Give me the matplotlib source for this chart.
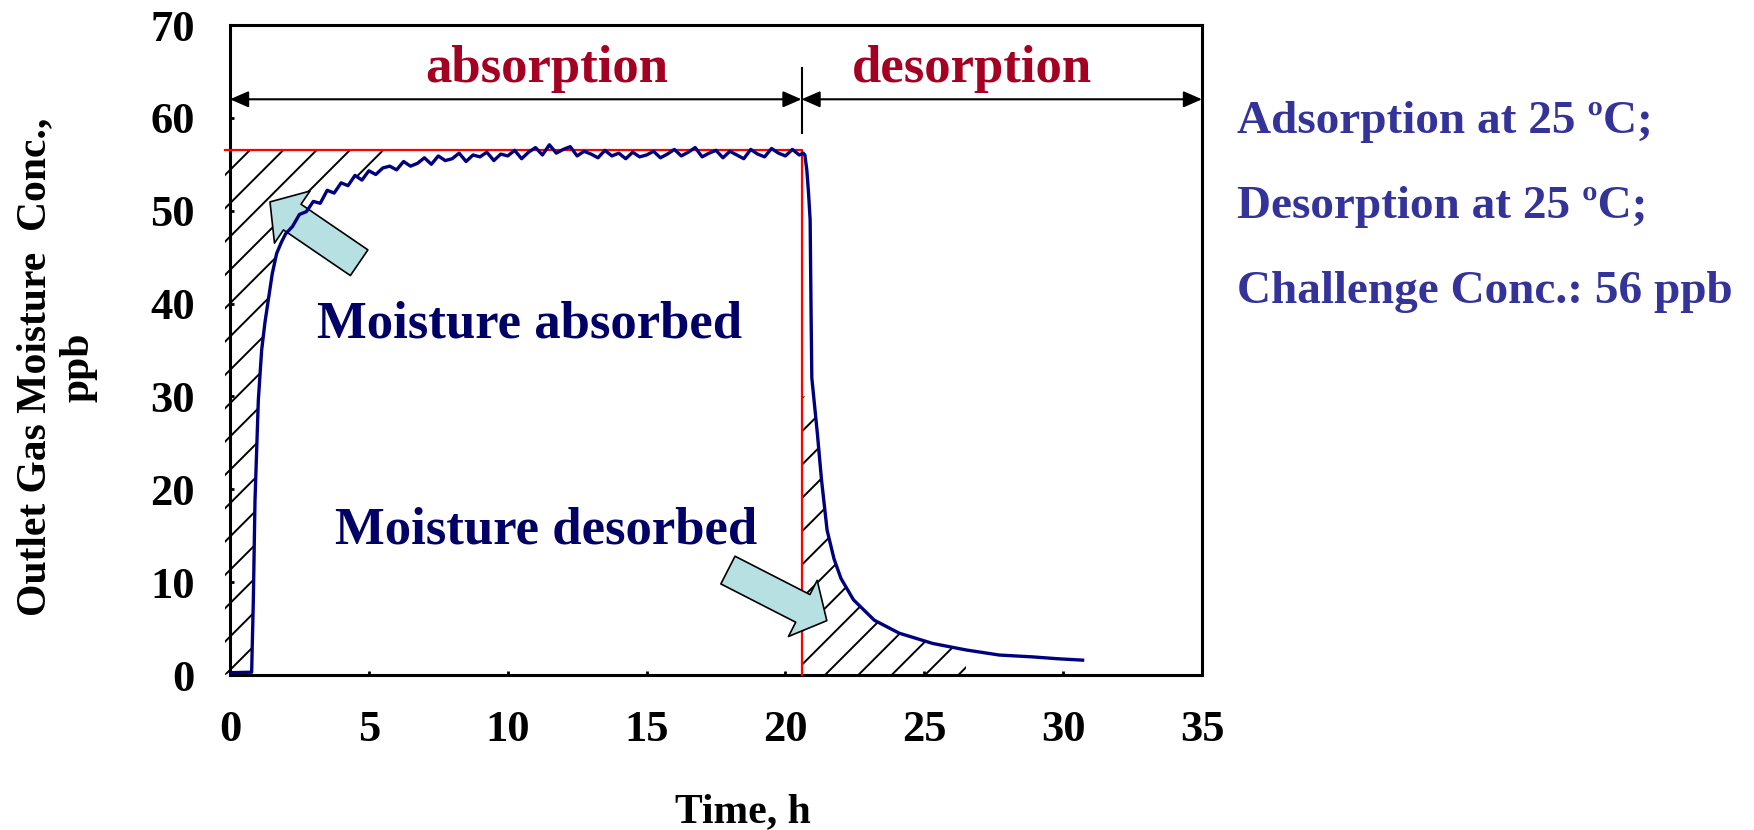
import numpy as np
import matplotlib
matplotlib.use('Agg')
import matplotlib.pyplot as plt

plt.rcParams['font.family'] = ['Liberation Serif', 'DejaVu Serif']
plt.rcParams['font.weight'] = 'bold'
plt.rcParams['hatch.linewidth'] = 0.7
plt.rcParams['hatch.color'] = 'k'

# ---- data (time in h, outlet moisture in ppb) ----
rise_t = [0.0, 0.78, 0.80, 0.84, 0.90, 0.96, 1.02, 1.14, 1.26, 1.38, 1.52, 1.68, 1.85, 2.0]
rise_v = [0.25, 0.3, 3.0, 8.0, 18.8, 24.2, 29.6, 35.0, 38.0, 40.4, 43.2, 45.4, 46.6, 47.5]

plat_t = [2.25, 2.5, 2.75, 3.0, 3.25, 3.5, 3.75, 4.0, 4.25, 4.5, 4.75,
          5.0, 5.25, 5.5, 5.75, 6.0, 6.25, 6.5, 6.75, 7.0, 7.25, 7.5, 7.75,
          8.0, 8.25, 8.5, 8.75, 9.0, 9.25, 9.5, 9.75,
          10.0, 10.25, 10.5, 10.75, 11.0, 11.25, 11.5, 11.75, 12.0, 12.25, 12.5, 12.75,
          13.0, 13.25, 13.5, 13.75, 14.0, 14.25, 14.5, 14.75,
          15.0, 15.25, 15.5, 15.75, 16.0, 16.25, 16.5, 16.75, 17.0, 17.25, 17.5, 17.75,
          18.0, 18.25, 18.5, 18.75, 19.0, 19.25, 19.5, 19.75,
          20.0, 20.25, 20.5]
plat_v = [48.3, 49.6, 49.9, 51.0, 50.8, 52.2, 51.9, 53.0, 52.7, 53.8, 53.3,
          54.3, 53.9, 54.6, 54.8, 54.4, 55.3, 54.8, 55.1, 55.7, 55.0, 55.9, 55.4,
          55.6, 56.2, 55.3, 56.0, 55.8, 56.3, 55.4, 56.1,
          55.9, 56.5, 55.6, 56.3, 56.8, 56.0, 57.1, 56.2, 56.6, 56.9, 55.9, 56.4,
          56.1, 55.7, 56.5, 55.9, 56.2, 55.6, 56.3, 55.8,
          56.0, 56.4, 55.7, 56.1, 56.6, 55.9, 56.3, 56.8, 55.8, 56.2, 56.5, 55.7,
          56.4, 56.0, 55.6, 56.6, 56.1, 55.8, 56.7, 56.2,
          55.9, 56.6, 56.0]

drop_t = [20.64, 20.70, 20.77, 20.83, 20.89, 20.92, 20.95, 21.05, 21.15, 21.3, 21.5,
          21.75, 22.0, 22.45, 23.2, 24.1, 25.3, 26.5, 27.7, 28.9, 29.8, 30.7]
drop_v = [56.2, 56.0, 54.4, 52.0, 49.0, 40.0, 32.0, 29.0, 26.0, 21.0, 15.6,
          12.5, 10.4, 8.1, 5.9, 4.5, 3.4, 2.7, 2.15, 1.95, 1.75, 1.6]

challenge = 56.5      # ppb, red reference level
switch_t = 20.58      # h, switch from absorption to desorption

t = np.array(rise_t + plat_t + drop_t)
v = np.array(rise_v + plat_v + drop_v)

fig = plt.figure(figsize=(8.77, 4.15), dpi=200)
ax = fig.add_axes([230 / 1754, 155 / 830, 972 / 1754, 650 / 830])

# hatched areas
m1 = t <= 5.6
ax.fill_between(np.concatenate([[-0.18], t[m1]]), np.concatenate([[0.0], v[m1]]),
                challenge, facecolor='none', edgecolor='k', linewidth=0,
                hatch='//', clip_on=False)
m2 = (t >= switch_t) & (t <= 27.5)
ax.fill_between(np.concatenate([[switch_t], t[m2]]),
                0, np.minimum(np.concatenate([[v[m2][0]], v[m2]]), 30),
                facecolor='none', edgecolor='k', linewidth=0, hatch='//')

# red challenge profile
ax.plot([-0.18, switch_t, switch_t], [challenge, challenge, 0], color='#ff0000',
        lw=0.8, clip_on=False, zorder=3)

# measured curve
ax.plot(t, v, color='#00007f', lw=1.2, zorder=4)

# phase arrows
ap = dict(arrowstyle='<|-|>,head_length=0.8,head_width=0.35', color='k',
          lw=0.75, mutation_scale=7, shrinkA=0, shrinkB=0)
ax.annotate('', xy=(0, 62), xytext=(switch_t, 62), arrowprops=ap)
ax.annotate('', xy=(switch_t, 62), xytext=(35, 62), arrowprops=ap)
ax.plot([switch_t, switch_t], [58.4, 65.4], color='k', lw=0.75)

ax.text(11.4, 63.9, 'absorption', color='#a50021', fontsize=19,
        ha='center', va='baseline')
ax.text(26.7, 63.9, 'desorption', color='#a50021', fontsize=19,
        ha='center', va='baseline')
ax.text(10.8, 36.4, 'Moisture absorbed', color='#000066', fontsize=19,
        ha='center', va='baseline')
ax.text(11.4, 14.2, 'Moisture desorbed', color='#000066', fontsize=19,
        ha='center', va='baseline')

# block arrows
bp = dict(arrowstyle='simple,head_length=0.97,head_width=2.27,tail_width=1.12',
          fc='#b7e0e3', ec='k', lw=0.6, mutation_scale=10, shrinkA=0, shrinkB=0)
ax.annotate('', xy=(1.44, 50.95), xytext=(4.65, 44.4), arrowprops=bp)
ax.annotate('', xy=(21.49, 5.85), xytext=(17.93, 11.3), arrowprops=bp)

ax.set_xlim(0, 35)
ax.set_ylim(0, 70)
ax.set_xticks(range(0, 36, 5))
ax.set_yticks(range(0, 71, 10))
ax.tick_params(direction='in', length=1.5, width=1.0, pad=12.6, labelsize=16)
for s in ax.spines.values():
    s.set_linewidth(1.1)

ax.set_xlabel('Time, h', fontsize=15, fontweight='bold', va='baseline')
ax.xaxis.set_label_coords(0.528, -0.226)
fig.text(57 / 1754, 1 - 367 / 830, 'Outlet Gas Moisture  Conc.,\nppb',
         rotation=90, ha='center', va='center', multialignment='center',
         fontsize=15)

notes = ['Adsorption at 25 \u00baC;', 'Desorption at 25 \u00baC;',
         'Challenge Conc.: 56 ppb']
for i, s in enumerate(notes):
    fig.text(1237 / 1754, 1 - (133.3 + 85 * i) / 830, s, color='#333399',
             fontsize=17, va='baseline')

fig.savefig('out.png', dpi=200)
